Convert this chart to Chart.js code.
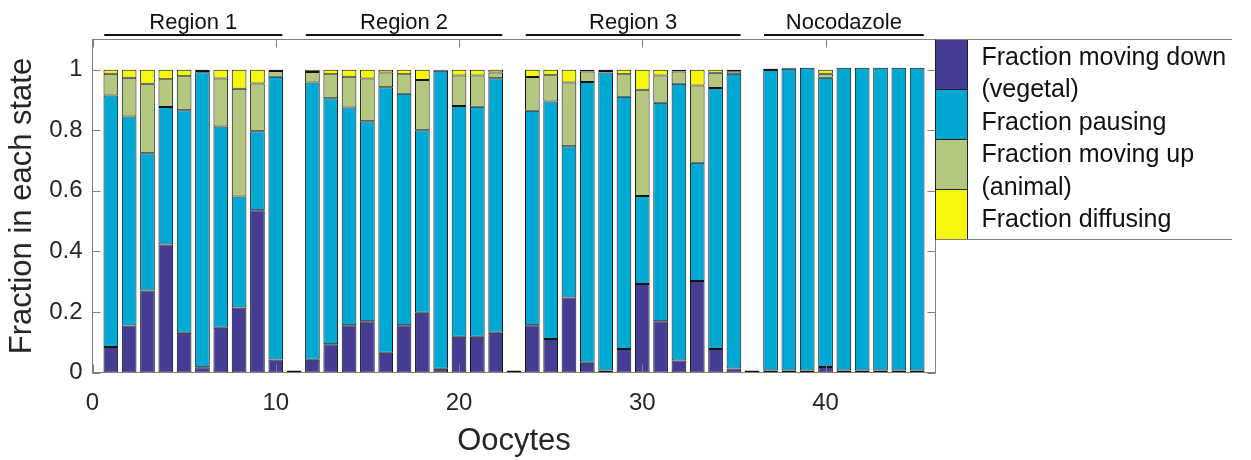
<!DOCTYPE html>
<html>
<head>
<meta charset="utf-8">
<script src="https://cdn.jsdelivr.net/npm/chart.js@4/dist/chart.umd.min.js"></script>
<style>
  html, body { margin: 0; padding: 0; background: #fff; }
  canvas { display: block; }
</style>
</head>
<body>
<canvas id="chart" width="1251" height="460"></canvas>
<script>
// Oocyte index for each bar (11, 23 and 36 are empty separators between groups)
const oocytes = [
  1, 2, 3, 4, 5, 6, 7, 8, 9, 10,
  11,
  12, 13, 14, 15, 16, 17, 18, 19, 20, 21, 22,
  23,
  24, 25, 26, 27, 28, 29, 30, 31, 32, 33, 34, 35,
  36,
  37, 38, 39, 40, 41, 42, 43, 44, 45
];

// Fraction of tracked particles in each state, per oocyte
const movingDown = [
  0.084, 0.155, 0.271, 0.423, 0.131, 0.017, 0.148, 0.215, 0.536, 0.043,
  0,
  0.042, 0.093, 0.156, 0.169, 0.065, 0.156, 0.197, 0.012, 0.118, 0.118, 0.131,
  0,
  0.156, 0.111, 0.248, 0.032, 0.007, 0.078, 0.292, 0.169, 0.040, 0.302, 0.078, 0.013,
  0,
  0.002, 0, 0, 0.018, 0, 0, 0, 0, 0
];
const pausing = [
  0.831, 0.691, 0.453, 0.454, 0.735, 0.975, 0.665, 0.366, 0.261, 0.934,
  0,
  0.916, 0.813, 0.719, 0.661, 0.877, 0.765, 0.603, 0.985, 0.762, 0.760, 0.841,
  0,
  0.709, 0.784, 0.499, 0.928, 0.984, 0.833, 0.291, 0.722, 0.914, 0.391, 0.862, 0.974,
  0,
  0.993, 0.997, 1, 0.956, 1, 1, 1, 1, 1
];
const movingUp = [
  0.072, 0.128, 0.230, 0.092, 0.113, 0.004, 0.158, 0.356, 0.158, 0.019,
  0,
  0.035, 0.079, 0.102, 0.141, 0.049, 0.064, 0.166, 0.003, 0.101, 0.103, 0.019,
  0,
  0.111, 0.087, 0.211, 0.034, 0.005, 0.074, 0.351, 0.090, 0.040, 0.255, 0.050, 0.008,
  0,
  0.004, 0.003, 0, 0.013, 0, 0, 0, 0, 0
];
const diffusing = [
  0.013, 0.026, 0.046, 0.031, 0.021, 0.004, 0.029, 0.063, 0.045, 0.004,
  0,
  0.007, 0.015, 0.023, 0.029, 0.009, 0.015, 0.034, 0, 0.019, 0.019, 0.009,
  0,
  0.024, 0.018, 0.042, 0.006, 0.004, 0.015, 0.066, 0.019, 0.006, 0.052, 0.010, 0.005,
  0,
  0.001, 0, 0, 0.013, 0, 0, 0, 0, 0
];

// Legend text, one array of lines per state
const stateLabels = [
  ['Fraction moving down', '(vegetal)'],
  ['Fraction pausing'],
  ['Fraction moving up', '(animal)'],
  ['Fraction diffusing']
];
const stateColors = ['#453d94', '#00a8d4', '#b4c77e', '#f6f50c'];

// Experimental groups drawn as bracket labels above the axes
const groupNames = ['Region 1', 'Region 2', 'Region 3', 'Nocodazole'];
const groupFirst = [1, 12, 24, 37];
const groupLast  = [10, 22, 35, 45];

// Axis tick values
const xTickStep = 10;
const yTickStep = 0.2;

const FONT = "'Liberation Sans', Arial, Helvetica, sans-serif";
const TEXT = '#262626';
const AXIS = '#7f7f7f';

const series = [movingDown, pausing, movingUp, diffusing];

// The first state keeps its zeros so empty oocytes show as a flat line at 0;
// zero segments of the other states are simply left out.
const datasets = series.map((vals, k) => ({
  label: stateLabels[k].join(' '),
  data: oocytes.map((o, i) => ({ x: o, y: (k === 0 || vals[i] !== 0) ? vals[i] : null })),
  backgroundColor: stateColors[k],
  borderColor: '#111',
  borderWidth: 1,
  borderSkipped: false,
  inflateAmount: 0,
  barPercentage: 0.8,
  categoryPercentage: 1.0,
  minBarLength: k === 0 ? 2 : 0,
  clip: false
}));

// Box around the plot with inward ticks on all four sides
const frame = {
  id: 'frame',
  afterDatasetsDraw(chart) {
    const { ctx, chartArea: a, scales: { x, y } } = chart;
    ctx.save();
    ctx.strokeStyle = AXIS;
    ctx.lineWidth = 1;
    ctx.strokeRect(a.left, a.top, a.right - a.left, a.bottom - a.top);
    ctx.beginPath();
    const tl = 8;
    x.ticks.forEach(t => {
      const px = Math.round(x.getPixelForValue(t.value)) + 0.5;
      ctx.moveTo(px, a.bottom); ctx.lineTo(px, a.bottom - tl);
      ctx.moveTo(px, a.top); ctx.lineTo(px, a.top + tl);
    });
    y.ticks.forEach(t => {
      const py = Math.round(y.getPixelForValue(t.value)) + 0.5;
      ctx.moveTo(a.left, py); ctx.lineTo(a.left + tl, py);
      ctx.moveTo(a.right, py); ctx.lineTo(a.right - tl, py);
    });
    ctx.stroke();
    ctx.restore();
  }
};

// Group brackets above the plot area
const groups = {
  id: 'groups',
  afterDraw(chart) {
    const { ctx, scales: { x } } = chart;
    ctx.save();
    ctx.strokeStyle = '#111';
    ctx.lineWidth = 2;
    ctx.fillStyle = '#111';
    ctx.font = '22px ' + FONT;
    ctx.textAlign = 'center';
    ctx.textBaseline = 'alphabetic';
    groupNames.forEach((name, g) => {
      const x0 = x.getPixelForValue(groupFirst[g] - 0.36);
      const x1 = x.getPixelForValue(groupLast[g] + 0.36);
      ctx.beginPath();
      ctx.moveTo(x0, 35);
      ctx.lineTo(x1, 35);
      ctx.stroke();
      ctx.fillText(name, (x0 + x1) / 2, 28.5);
    });
    ctx.restore();
  }
};

// Stacked-swatch legend placed against the right edge of the axes
const sideLegend = {
  id: 'sideLegend',
  afterDraw(chart) {
    const { ctx, chartArea: a } = chart;
    const top = a.top, bandH = 50, swW = 32;
    const left = a.right;
    const boxRight = 1232;
    const n = chart.data.datasets.length;
    ctx.save();
    chart.data.datasets.forEach((ds, k) => {
      const y0 = top + k * bandH;
      ctx.fillStyle = ds.backgroundColor;
      ctx.fillRect(left, y0, swW, bandH);
      ctx.strokeStyle = '#222';
      ctx.lineWidth = 1;
      ctx.strokeRect(left, y0, swW, bandH);
    });
    ctx.strokeStyle = AXIS;
    ctx.lineWidth = 1;
    ctx.beginPath();
    ctx.moveTo(left, top); ctx.lineTo(boxRight, top);
    ctx.moveTo(left, top + n * bandH); ctx.lineTo(boxRight, top + n * bandH);
    ctx.stroke();
    ctx.fillStyle = '#111';
    ctx.font = '25px ' + FONT;
    ctx.textAlign = 'left';
    ctx.textBaseline = 'alphabetic';
    let line = 0;
    stateLabels.forEach(lines => {
      lines.forEach(txt => {
        ctx.fillText(txt, left + 46, 64.5 + line * 32.5);
        line++;
      });
    });
    ctx.restore();
  }
};

new Chart(document.getElementById('chart'), {
  type: 'bar',
  data: { datasets },
  options: {
    responsive: false,
    animation: false,
    devicePixelRatio: 1,
    layout: { padding: { left: 0, top: 39.5, right: 315.5, bottom: 0 } },
    plugins: {
      legend: { display: false },
      tooltip: { enabled: false }
    },
    scales: {
      x: {
        type: 'linear',
        stacked: true,
        offset: false,
        min: 0,
        max: 46,
        grid: { display: false, drawTicks: false, offset: false },
        border: { display: false },
        ticks: {
          stepSize: xTickStep,
          includeBounds: false,
          padding: 16,
          color: TEXT,
          font: { family: FONT, size: 24 },
          maxRotation: 0,
          autoSkip: false
        },
        title: {
          display: true,
          text: 'Oocytes',
          color: TEXT,
          font: { family: FONT, size: 31 },
          padding: { top: 0, bottom: 0 }
        },
        afterFit(scale) { scale.height = 87.5; }
      },
      y: {
        stacked: true,
        min: 0,
        max: 1.1,
        grid: { display: false, drawTicks: false },
        border: { display: false },
        ticks: {
          stepSize: yTickStep,
          includeBounds: false,
          padding: 10,
          color: TEXT,
          font: { family: FONT, size: 24 },
          callback: v => String(Math.round(v * 10) / 10)
        },
        title: {
          display: true,
          text: 'Fraction in each state',
          color: TEXT,
          font: { family: FONT, size: 31 },
          padding: { top: 4, bottom: 0 }
        },
        afterFit(scale) { scale.width = 92.5; }
      }
    }
  },
  plugins: [frame, groups, sideLegend]
});
</script>
</body>
</html>
